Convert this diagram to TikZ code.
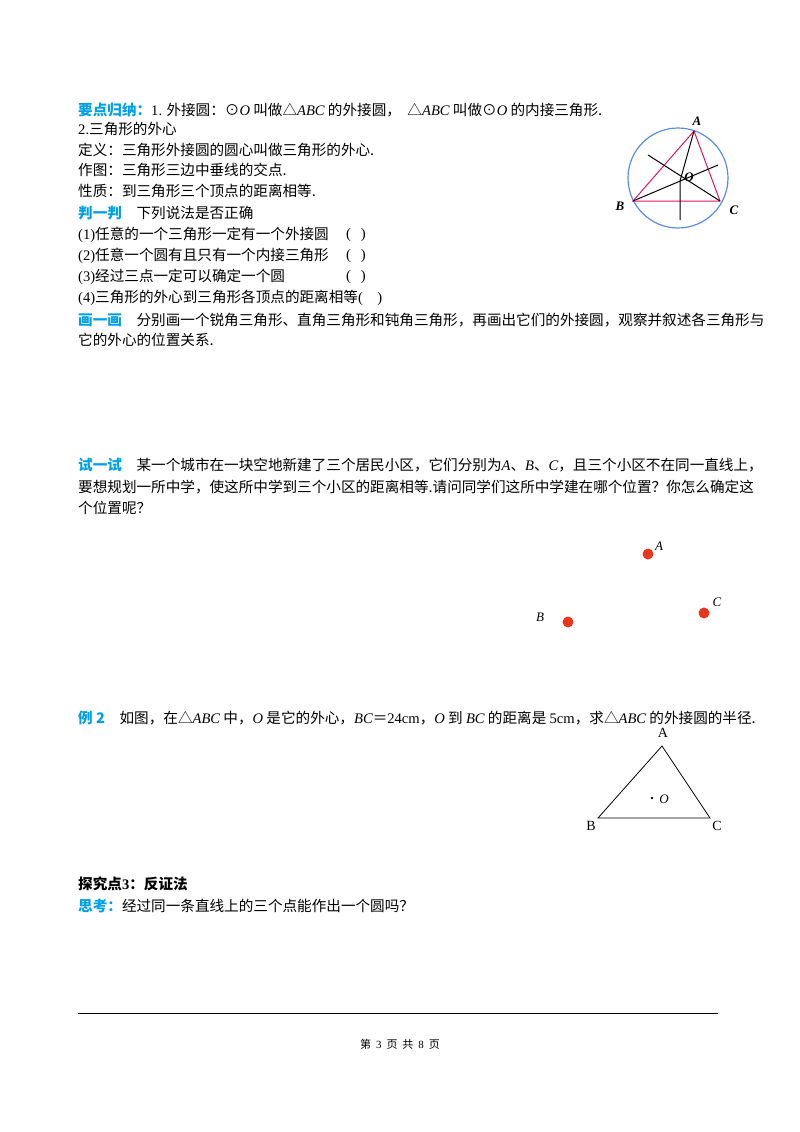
\documentclass[tikz,border=0pt]{standalone}
\usepackage{fontspec}
\setmainfont{Noto Sans CJK SC}
\newfontfamily\lat{Liberation Serif}
\newcommand{\mi}[1]{{\lat\itshape #1}}
\newcommand{\kw}[1]{{\color{kwblue}\bfseries #1}}
\definecolor{kwblue}{RGB}{0,160,230}
\definecolor{dotred}{RGB}{232,54,28}
\definecolor{circblue}{RGB}{90,140,230}
\definecolor{pinkred}{RGB}{225,20,100}
\begin{document}
\begin{tikzpicture}[x=1pt,y=-1pt,
  txt/.style={anchor=west,inner sep=0pt,font=\fontsize{14.6}{16}\selectfont},
  lbl/.style={inner sep=0pt,font=\lat\itshape\bfseries\fontsize{13}{14}\selectfont},
  lbl2/.style={inner sep=0pt,font=\lat\itshape\fontsize{13}{14}\selectfont},
  reddot/.style={circle,fill=dotred,inner sep=0pt,minimum size=11pt}]
\useasboundingbox (0,0) rectangle (800,1132);
\node[txt] (t1) at (78,110) {\kw{要点归纳：}{\lat 1.} 外接圆：⊙\mi{O} 叫做△\mi{ABC} 的外接圆，\ \ △\mi{ABC} 叫做⊙\mi{O} 的内接三角形.};
\node[txt] (t2) at (78,129) {{\lat 2.}三角形的外心};
\node[txt] (t3) at (78,150) {定义：三角形外接圆的圆心叫做三角形的外心.};
\node[txt] (t4) at (78,170) {作图：三角形三边中垂线的交点.};
\node[txt] (t5) at (78,191) {性质：到三角形三个顶点的距离相等.};
\node[txt] (t6) at (78,213) {\kw{判一判}\quad 下列说法是否正确};
\node[txt] (t7) at (78,235) {{\lat (1)}任意的一个三角形一定有一个外接圆};
\node[txt] (t8) at (78,256) {{\lat (2)}任意一个圆有且只有一个内接三角形};
\node[txt] (t9) at (78,277) {{\lat (3)}经过三点一定可以确定一个圆};
\node[txt] (t10) at (78,298) {{\lat (4)}三角形的外心到三角形各顶点的距离相等{\lat (\quad)}};
\foreach \y/\n in {235/a,256/b,277/c}{\node[txt] (p\n) at (346,\y) {\lat (\ \ \,)};}
\node[txt] (t11) at (78,320) {\kw{画一画}\quad 分别画一个锐角三角形、直角三角形和钝角三角形，再画出它们的外接圆，观察并叙述各三角形与};
\node[txt] (t12) at (78,340) {它的外心的位置关系.};
% top figure
\coordinate (O) at (680,181);
\coordinate (A) at (694,131);
\coordinate (B) at (633,201);
\coordinate (C) at (720,201);
\draw[circblue,line width=1.2pt] (678,178) circle (50);
\draw[pinkred,line width=1pt] (A)--(B)--(C)--cycle;
\draw[black,line width=1pt] (A)--(O)--(680,220);
\draw[black,line width=1pt] (648,155)--(C);
\draw[black,line width=1pt] (B)--(718,165);
\node[lbl] (la) at (697,121) {A};
\node[lbl] (lb) at (620,206) {B};
\node[lbl] (lc) at (734,210) {C};
\node[lbl] (lo) at (689,177) {O};
% try
\node[txt] (s1) at (78,465) {\kw{试一试}\quad 某一个城市在一块空地新建了三个居民小区，它们分别为\mi{A}、\mi{B}、\mi{C}，且三个小区不在同一直线上，};
\node[txt] (s2) at (78,487) {要想规划一所中学，使这所中学到三个小区的距离相等.请问同学们这所中学建在哪个位置？你怎么确定这};
\node[txt] (s3) at (78,508) {个位置呢？};
\node[reddot] (dA) at (648,554) {};
\node[reddot] (dC) at (704,613) {};
\node[reddot] (dB) at (568,622) {};
\node[lbl2] (ldA) at (659,546) {A};
\node[lbl2] (ldC) at (717,602) {C};
\node[lbl2] (ldB) at (540,617) {B};
% example 2
\node[txt] (e1) at (78,718) {\kw{例 2}\quad 如图，在△\mi{ABC} 中，\mi{O} 是它的外心，\mi{BC}＝{\lat 24cm}，\mi{O} 到 \mi{BC} 的距离是 {\lat 5cm}，求△\mi{ABC} 的外接圆的半径.};
\coordinate (TA) at (662,746);
\coordinate (TB) at (598,818);
\coordinate (TC) at (710,818);
\draw[line width=0.8pt] (TA)--(TB)--(TC)--cycle;
\fill (652,798) circle (1.3);
\node[inner sep=0pt,font=\lat\fontsize{14}{14}\selectfont] (eA) at (663,733) {A};
\node[inner sep=0pt,font=\lat\fontsize{14}{14}\selectfont] (eB) at (591,826) {B};
\node[inner sep=0pt,font=\lat\fontsize{14}{14}\selectfont] (eC) at (717,826) {C};
\node[lbl2] (eO) at (664,799) {O};
% explore
\node[txt] (x1) at (78,884) {\textbf{探究点{\lat 3}：反证法}};
\node[txt] (x2) at (78,906) {\kw{思考：}经过同一条直线上的三个点能作出一个圆吗？};
\draw[line width=0.8pt] (78,1013) coordinate (f1) -- (718,1013) coordinate (f2);
\node[inner sep=0pt,font=\fontsize{11}{12}\selectfont] (ft) at (400,1044) {第\ \ {\lat 3}\ \ 页\ \ 共\ \ {\lat 8}\ \ 页};
\end{tikzpicture}
\end{document}
